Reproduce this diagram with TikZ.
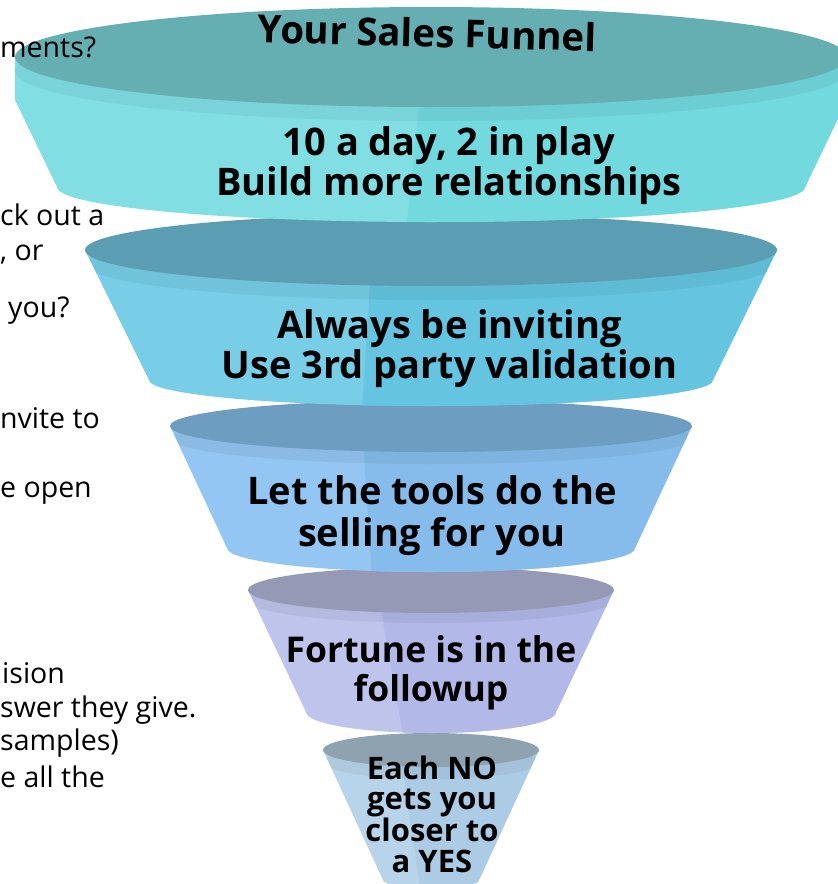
\documentclass[tikz,border=0pt]{standalone}
\usepackage{fontspec}
\setmainfont{Open Sans}

\definecolor{topA}{HTML}{65AEB2}
\definecolor{leftA}{HTML}{81DFE4}
\definecolor{rightA}{HTML}{72D9DF}
\definecolor{topB}{HTML}{5B9EB3}
\definecolor{leftB}{HTML}{78CDE7}
\definecolor{rightB}{HTML}{65C4E0}
\definecolor{topC}{HTML}{6D9DC0}
\definecolor{leftC}{HTML}{93C6F2}
\definecolor{rightC}{HTML}{85BCEC}
\definecolor{topD}{HTML}{9699B5}
\definecolor{leftD}{HTML}{BEC4EC}
\definecolor{rightD}{HTML}{B2B8E7}
\definecolor{topE}{HTML}{8FA2AF}
\definecolor{leftE}{HTML}{B8D4EA}
\definecolor{rightE}{HTML}{ACCCE6}

\tikzset{
  band/.style={fill=black,fill opacity=0.05},
  sidenote/.style={anchor=base west,inner sep=0pt,font=\fontsize{28.5}{34}\selectfont},
  funnellabel/.style={anchor=base,align=center,inner sep=0pt,font=\fontsize{38}{40}\selectfont\bfseries},
}

\begin{document}
\begin{tikzpicture}[x=1pt,y=-1pt]
	\fill[white] (0,0) rectangle (838,884);
	\useasboundingbox (0,0) rectangle (838,884);
	
	% bottom part
	\begin{scope}
		\clip (323,750) -- (383,880) arc[start angle=180,end angle=0,x radius=48,y radius=8] -- (539,750) -- cycle;
		\fill[leftE] (300,700) rectangle (560,900);
		\fill[rightE] (392,700) -- (560,700) -- (560,900) -- (422,900) -- cycle;
		\fill[band] (431,762) ellipse [x radius=108,y radius=17];
	\end{scope}
	\fill[topE] (431,750) ellipse [x radius=108,y radius=17];
	
	% fourth part
	\begin{scope}
		\clip (248,590) -- (306,712) arc[start angle=180,end angle=0,x radius=125,y radius=21] -- (614,590) -- cycle;
		\fill[leftD] (230,560) rectangle (630,740);
		\fill[rightD] (372,560) -- (630,560) -- (630,740) -- (404,740) -- cycle;
		\fill[band] (431,600) ellipse [x radius=183,y radius=23];
	\end{scope}
	\fill[topD] (431,590) ellipse [x radius=183,y radius=23];
	
	% third part
	\begin{scope}
		\clip (170,426) -- (227,548) arc[start angle=180,end angle=0,x radius=204,y radius=24] -- (692,426) -- cycle;
		\fill[leftC] (150,390) rectangle (710,580);
		\fill[rightC] (360,390) -- (710,390) -- (710,580) -- (372,580) -- cycle;
		\fill[band] (431,438) ellipse [x radius=261,y radius=26];
	\end{scope}
	\fill[topC] (431,426) ellipse [x radius=261,y radius=26];
	
	% second part
	\begin{scope}
		\clip (85,250) -- (149,380) arc[start angle=180,end angle=0,x radius=282,y radius=26] -- (777,250) -- cycle;
		\fill[leftB] (70,210) rectangle (790,410);
		\fill[rightB] (375,210) -- (790,210) -- (790,410) -- (362,410) -- cycle;
		\fill[band] (431,264) ellipse [x radius=346,y radius=36];
	\end{scope}
	\fill[topB] (431,250) ellipse [x radius=346,y radius=36];
	
	% top part
	\begin{scope}
		\clip (15,57) -- (15,100) -- (57,187) arc[start angle=180,end angle=0,x radius=374,y radius=35] -- (847,100) -- (847,57) -- cycle;
		\fill[leftA] (0,40) rectangle (860,230);
		\fill[rightA] (426,40) -- (860,40) -- (860,230) -- (406,230) -- cycle;
		\fill[band] (431,71) ellipse [x radius=416,y radius=50];
	\end{scope}
	\fill[topA] (431,57) ellipse [x radius=416,y radius=50];
	
	\node[funnellabel,font=\fontsize{38.5}{40}\selectfont\bfseries,rotate=-1.5] (title) at (427,47) {Your Sales Funnel};
	\node[funnellabel] (lab1) at (449,195) {10 a day, 2 in play\\Build more relationships};
	\node[funnellabel] (lab2) at (449.5,378) {Always be inviting\\Use 3rd party validation};
	\node[funnellabel,font=\fontsize{38}{42}\selectfont\bfseries] (lab3) at (432,546) {Let the tools do the\\selling for you};
	\node[funnellabel,font=\fontsize{35.5}{39}\selectfont\bfseries] (lab4) at (431,701) {Fortune is in the\\followup};
	\node[funnellabel,font=\fontsize{31}{30.5}\selectfont\bfseries] (lab5) at (432,872) {Each NO\\gets you\\closer to\\a YES};
	
	\node[sidenote] (note1) at (0,57) {ments?};
	\node[sidenote] (note2) at (0,225) {ck out a};
	\node[sidenote] (note3) at (0,260) {, or};
	\node[sidenote] (note4) at (8,317) {you?};
	\node[sidenote] (note5) at (0,428) {nvite to};
	\node[sidenote] (note6) at (0,497) {e open};
	\node[sidenote] (note7) at (2,683) {ision};
	\node[sidenote] (note8) at (0,717) {swer they give.};
	\node[sidenote] (note9) at (0,750) {samples)};
	\node[sidenote] (note10) at (0,787) {e all the};
	
\end{tikzpicture}
\end{document}
